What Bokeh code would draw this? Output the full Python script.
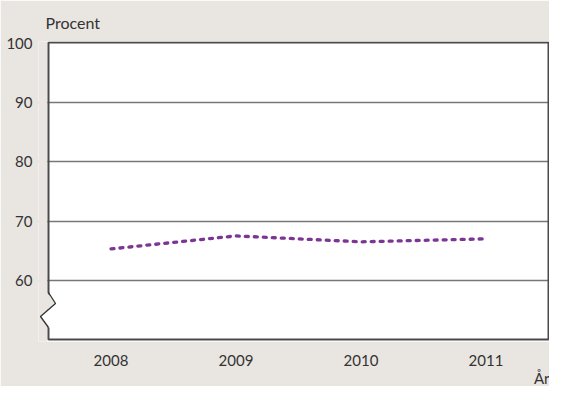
from bokeh.plotting import figure
from bokeh.models import FixedTicker, Title, BoxAnnotation, PolyAnnotation, ColumnDataSource
from bokeh.embed import file_html
from bokeh.resources import INLINE

years = [2008, 2009, 2010, 2011]
values = [65.3, 67.5, 66.5, 67.0]
y_ticks = [60, 70, 80, 90, 100]

FONT = "Lato"
BG = "#E9E5E0"
TXT = "#333333"
EDGE = "#4a4a4a"

# frame spans canvas x 38..549, y 40..341; visible plot box is x 48..548, y 42..339
p = figure(width=549, height=386, x_range=(2007.42, 2011.508), y_range=(49.66, 100.34),
           output_backend="svg", toolbar_location=None, title=None,
           min_border_left=38, min_border_right=0, min_border_top=40, min_border_bottom=45)
p.border_fill_color = BG
p.background_fill_color = "white"
p.outline_line_color = None

p.xgrid.grid_line_color = None
p.ygrid.grid_line_color = "#777777"
p.ygrid.grid_line_width = 1.3
p.ygrid.ticker = FixedTicker(ticks=y_ticks[:-1])

p.yaxis.ticker = FixedTicker(ticks=y_ticks)
p.xaxis.ticker = FixedTicker(ticks=years)
for ax in (p.xaxis[0], p.yaxis[0]):
    ax.axis_line_color = None
    ax.major_tick_line_color = None
    ax.minor_tick_line_color = None
    ax.major_label_text_font = FONT
    ax.major_label_text_font_size = "15px"
    ax.major_label_text_color = TXT
p.yaxis.major_label_standoff = 0
p.xaxis.major_label_standoff = 7

src = ColumnDataSource(dict(x=years, y=values))
p.line("x", "y", source=src, line_color="#7D3594", line_width=3.3,
       line_dash="3 6", line_cap="round")

def canvas_box(**kw):
    return BoxAnnotation(left_units="canvas", right_units="canvas",
                         top_units="canvas", bottom_units="canvas", **kw)

# beige strip left of the plot box
p.add_layout(canvas_box(left=0, right=47, top=0, bottom=400,
                        fill_color=BG, fill_alpha=1, line_color=None))
# plot box border
p.add_layout(canvas_box(left=48, right=548, top=42, bottom=339,
                        fill_alpha=0, line_color=EDGE, line_alpha=1, line_width=2))
# axis break on the left spine
p.add_layout(PolyAnnotation(xs=[46.5, 55, 48, 46.5], ys=[292, 303, 309, 309],
                            xs_units="canvas", ys_units="canvas",
                            fill_color=BG, fill_alpha=1, line_color=None))
p.add_layout(PolyAnnotation(xs=[49.5, 48, 40, 48, 49.5], ys=[309, 309, 316, 327, 327],
                            xs_units="canvas", ys_units="canvas",
                            fill_color="white", fill_alpha=1, line_color=None))
p.add_layout(PolyAnnotation(xs=[48, 55, 40, 48, 40, 55], ys=[292, 303, 316, 327, 316, 303],
                            xs_units="canvas", ys_units="canvas",
                            fill_alpha=0, line_color="#333333", line_alpha=1, line_width=1.3))

p.add_layout(Title(text="Procent", align="left", offset=7, standoff=20,
                   text_font=FONT, text_font_size="16px", text_font_style="normal",
                   text_color=TXT), "above")
p.add_layout(Title(text="År", align="right", offset=0, standoff=-4,
                   text_font=FONT, text_font_size="15px", text_font_style="normal",
                   text_color=TXT), "below")

open("out.html", "w").write(file_html(p, INLINE))
